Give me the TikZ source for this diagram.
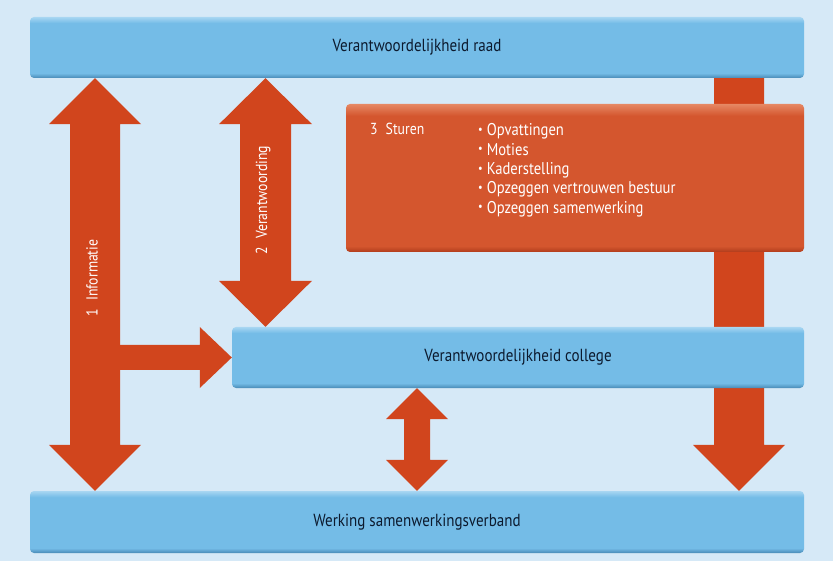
\documentclass[tikz,border=0pt]{standalone}
\usepackage{fontspec}
\setmainfont{PT Sans}[FakeStretch=0.86]
\usepackage{tikz}
\usetikzlibrary{calc, positioning}
\definecolor{BgBlue}{RGB}{214,233,247}
\definecolor{BoxBlue}{RGB}{116,188,231}
\definecolor{BoxHigh}{RGB}{168,214,242}
\definecolor{BoxLow}{RGB}{72,138,182}
\definecolor{ArrowRed}{RGB}{209,69,29}
\definecolor{SturOrange}{RGB}{212,86,46}
\definecolor{SturHigh}{RGB}{230,136,100}
\definecolor{SturLow}{RGB}{176,60,28}
\definecolor{LabelNavy}{RGB}{12,26,46}
\pgfdeclareverticalshading{bluebar}{100bp}{color(0bp)=(BoxLow); color(25bp)=(BoxLow);
  color(29bp)=(BoxBlue); color(70bp)=(BoxBlue); color(75bp)=(BoxHigh); color(100bp)=(BoxHigh)}
\pgfdeclareverticalshading{sturbar}{100bp}{color(0bp)=(SturLow); color(25bp)=(SturLow);
  color(27bp)=(SturOrange); color(71bp)=(SturOrange); color(75bp)=(SturHigh); color(100bp)=(SturHigh)}
\tikzset{
  bluebox/.style={rounded corners=4pt, shading=bluebar, inner sep=0pt,
    text=LabelNavy, font=\fontsize{17.5}{20}\selectfont},
  sturbox/.style={rounded corners=4pt, shading=sturbar, inner sep=0pt},
  whitelbl/.style={text=white, font=\fontsize{16}{19}\selectfont, inner sep=0pt}
}
% double headed fat arrow: top tip, bottom tip, shaft half, head half, head length
\newcommand{\vdblarrow}[5]{%
  \fill[ArrowRed] let \p1=(#1), \p2=(#2) in
    (\x1,\y1) -- (\x1+#4,\y1-#5) -- (\x1+#3,\y1-#5) -- (\x1+#3,\y2+#5)
    -- (\x1+#4,\y2+#5) -- (\x1,\y2) -- (\x1-#4,\y2+#5) -- (\x1-#3,\y2+#5)
    -- (\x1-#3,\y1-#5) -- (\x1-#4,\y1-#5) -- cycle;}
\begin{document}
\begin{tikzpicture}[x=1pt, y=-1pt]
  \fill[BgBlue] (0,0) rectangle (833,561);
  \useasboundingbox (0,0) rectangle (833,561);
  % Boxes (positions only, drawn later on top)
  \path (417,47.5) node[minimum width=774pt, minimum height=61pt] (raad) {};
  \path (518,357.5) node[minimum width=572pt, minimum height=61pt] (college) {};
  \path (417,522) node[minimum width=774pt, minimum height=62pt] (werking) {};
  \path (575,178) node[minimum width=458pt, minimum height=148pt] (sturen) {};
  \coordinate (infoX) at (95,0);
  \coordinate (verX) at (265.5,0);
  \coordinate (collX) at (417,0);
  \coordinate (sturX) at (739,0);
  % 1 Informatie
  \vdblarrow{infoX |- raad.south}{infoX |- werking.north}{25pt}{46pt}{46pt}
  \fill[ArrowRed] let \p1=(infoX |- college.west), \p2=(college.west) in
    (\x1,\y1+12.5pt) -- (\x2-32pt,\y1+12.5pt) -- (\x2-32pt,\y1+30.5pt) -- (\x2,\y2)
    -- (\x2-32pt,\y1-30.5pt) -- (\x2-32pt,\y1-12.5pt) -- (\x1,\y1-12.5pt) -- cycle;
  % 2 Verantwoording
  \vdblarrow{verX |- raad.south}{verX |- college.north}{25.5pt}{46.5pt}{46pt}
  % college <-> werking
  \vdblarrow{collX |- college.south}{collX |- werking.north}{13pt}{31pt}{31pt}
  % 3 Sturen
  \fill[ArrowRed] let \p1=(raad.center -| sturX), \p2=(sturX |- werking.north) in
    (\x1-25pt,\y1) -- (\x1+25pt,\y1) -- (\x1+25pt,\y2+46pt) -- (\x1+46pt,\y2+46pt)
    -- (\x2,\y2) -- (\x1-46pt,\y2+46pt) -- (\x1-25pt,\y2+46pt) -- cycle;
  % Boxes
  \node[bluebox, minimum width=774pt, minimum height=61pt] at (raad) {Verantwoordelijkheid raad};
  \node[bluebox, minimum width=572pt, minimum height=61pt] at (college) {Verantwoordelijkheid college};
  \node[bluebox, minimum width=774pt, minimum height=62pt] at (werking) {Werking samenwerkingsverband};
  \node[sturbox, minimum width=458pt, minimum height=148pt] at (sturen) {};
  % Labels
  \node[whitelbl, rotate=90] (infolbl) at (92,278) {1\enspace Informatie};
  \node[whitelbl, rotate=90] (verlbl) at (263,200) {2\enspace Verantwoording};
  \node[whitelbl, anchor=base west] (sturlbl) at (370,135) {3\enspace Sturen};
  \foreach \t [count=\i] in {Opvattingen, Moties, Kaderstelling,
      Opzeggen vertrouwen bestuur, Opzeggen samenwerking}{
    \node[whitelbl, font=\fontsize{17}{19}\selectfont, anchor=base west] (item\i)
      at (478,{136+19.3*(\i-1)})
      {\raisebox{0.3ex}{\scalebox{0.7}{\textbullet}}\hspace{4pt}\t};}
\end{tikzpicture}
\end{document}
